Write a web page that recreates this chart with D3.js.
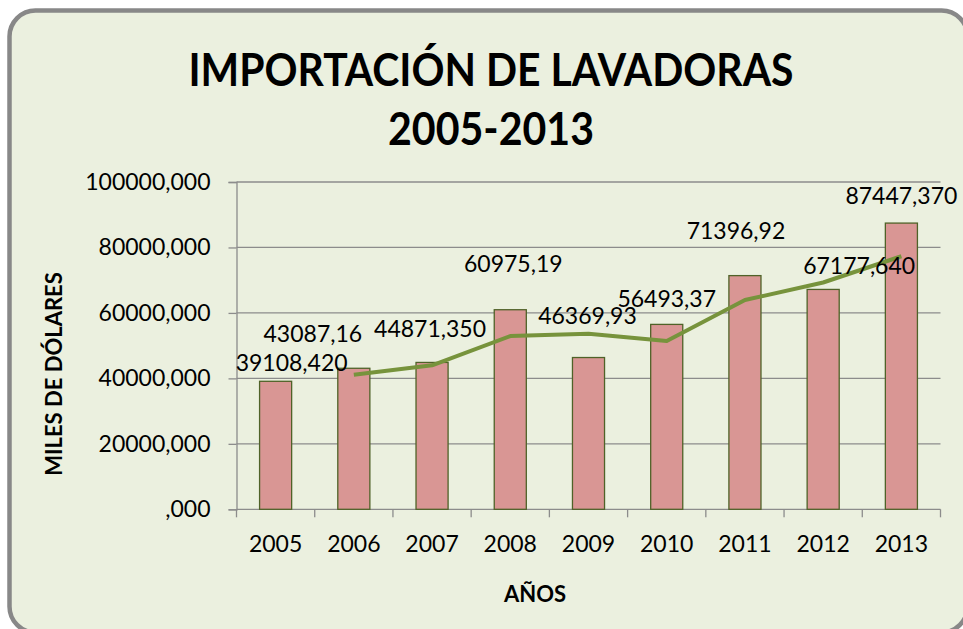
<!DOCTYPE html>
<html>
<head>
<meta charset="utf-8">
<script src="https://cdn.jsdelivr.net/npm/d3@7"></script>
<style>
  body { margin: 0; background: #ffffff; }
  svg { display: block; }
  text { font-family: Lato, "Open Sans", sans-serif; fill: #000; }
</style>
</head>
<body>
<script>
// data
const years = ["2005", "2006", "2007", "2008", "2009", "2010", "2011", "2012", "2013"];
const imports = [39108.42, 43087.16, 44871.35, 60975.19, 46369.93, 56493.37, 71396.92, 67177.64, 87447.37];
const importLabels = ["39108,420", "43087,16", "44871,350", "60975,19", "46369,93", "56493,37", "71396,92", "67177,640", "87447,370"];
// trend line (starts at 2006)
const trendYears = ["2006", "2007", "2008", "2009", "2010", "2011", "2012", "2013"];
const trendValues = [41100, 43980, 52920, 53670, 51430, 63950, 69290, 77310];
const yTicks = [0, 20000, 40000, 60000, 80000, 100000];

// where excel left each data label, relative to the top of its bar
const labelShift = [[16, -19], [-41, -35], [-2, -34], [3, -46], [-1, -42], [0, -26], [-9, -45], [36, -24], [0, -27]];

const W = 963, H = 629;
const svg = d3.select("body").append("svg")
  .attr("width", W)
  .attr("height", H);

// chart frame
svg.append("rect")
  .attr("x", 9.5).attr("y", 10.5)
  .attr("width", 958).attr("height", 622)
  .attr("rx", 26).attr("ry", 26)
  .attr("fill", "#ebf0df")
  .attr("stroke", "#888888")
  .attr("stroke-width", 4.5);

// title (calibri is narrower, so squeeze to the original width)
svg.append("text")
  .attr("x", 491).attr("y", 86)
  .attr("text-anchor", "middle")
  .attr("textLength", 605).attr("lengthAdjust", "spacingAndGlyphs")
  .style("font-size", "45px").style("font-weight", "bold")
  .text("IMPORTACIÓN DE LAVADORAS");
svg.append("text")
  .attr("x", 491).attr("y", 145)
  .attr("text-anchor", "middle")
  .attr("textLength", 206).attr("lengthAdjust", "spacingAndGlyphs")
  .style("font-size", "45px").style("font-weight", "bold")
  .text("2005-2013");

const plotLeft = 236.5, plotRight = 940.5, plotTop = 182, plotBottom = 509.3;

const x = d3.scaleBand()
  .domain(years)
  .range([plotLeft, plotRight])
  .paddingInner(0.59)
  .paddingOuter(0.295);

const xc = d3.scaleBand().domain(years).range([plotLeft, plotRight]); // whole category slots

const y = d3.scaleLinear()
  .domain([0, 100000])
  .range([plotBottom, plotTop]);

const fmt = function (d) {
  let s = d3.format(".3f")(d).replace(".", ",");
  return s.replace(/^0,/, ",");
};

// gridlines
svg.append("g")
  .selectAll("line")
  .data(yTicks.slice(1))
  .enter()
  .append("line")
    .attr("x1", plotLeft).attr("x2", plotRight)
    .attr("y1", d => y(d)).attr("y2", d => y(d))
    .attr("stroke", "#8c8c8c")
    .attr("stroke-width", 1.3);

// y axis
const yAxis = svg.append("g")
  .attr("transform", "translate(" + plotLeft + ",0)")
  .call(d3.axisLeft(y).tickValues(yTicks).tickFormat(fmt).tickSize(8).tickPadding(18));
yAxis.selectAll("path, line").attr("stroke", "#8c8c8c").attr("stroke-width", 1.3);
yAxis.selectAll("text").style("font-size", "23px").style("font-family", "Lato, sans-serif").attr("fill", "#000");

// x axis, ticks sit between the categories
const xAxis = svg.append("g")
  .attr("transform", "translate(0," + plotBottom + ")");
xAxis.append("line")
  .attr("x1", plotLeft).attr("x2", plotRight)
  .attr("stroke", "#8c8c8c").attr("stroke-width", 1.3);
xAxis.selectAll(".tk")
  .data(years.concat(["end"]))
  .enter()
  .append("line")
    .attr("class", "tk")
    .attr("x1", (d, i) => i < years.length ? xc(d) : plotRight)
    .attr("x2", (d, i) => i < years.length ? xc(d) : plotRight)
    .attr("y1", 0).attr("y2", 8)
    .attr("stroke", "#8c8c8c").attr("stroke-width", 1.3);
xAxis.selectAll(".yr")
  .data(years)
  .enter()
  .append("text")
    .attr("class", "yr")
    .attr("x", d => xc(d) + xc.bandwidth() / 2)
    .attr("y", 43)
    .attr("text-anchor", "middle")
    .style("font-size", "23px")
    .text(d => d);

// bars
svg.append("g")
  .selectAll("rect")
  .data(imports)
  .enter()
  .append("rect")
    .attr("x", (d, i) => x(years[i]))
    .attr("y", d => y(d))
    .attr("width", x.bandwidth())
    .attr("height", d => plotBottom - y(d))
    .attr("fill", "#d99694")
    .attr("stroke", "#4f6228")
    .attr("stroke-width", 1.3);

// trend line
const line = d3.line()
  .x((d, i) => xc(trendYears[i]) + xc.bandwidth() / 2)
  .y(d => y(d));
svg.append("path")
  .datum(trendValues)
  .attr("d", line)
  .attr("fill", "none")
  .attr("stroke", "#77933c")
  .attr("stroke-width", 4)
  .attr("stroke-linejoin", "round");

// data labels
svg.append("g")
  .selectAll("text")
  .data(imports)
  .enter()
  .append("text")
    .attr("x", (d, i) => xc(years[i]) + xc.bandwidth() / 2 + labelShift[i][0])
    .attr("y", (d, i) => y(d) + labelShift[i][1])
    .attr("dy", "0.36em")
    .attr("text-anchor", "middle")
    .style("font-size", "23px")
    .text((d, i) => importLabels[i]);

// axis titles
svg.append("text")
  .attr("transform", "translate(62,374) rotate(-90)")
  .attr("text-anchor", "middle")
  .style("font-size", "22px").style("font-weight", "bold")
  .text("MILES DE DÓLARES");

svg.append("text")
  .attr("x", 535).attr("y", 602)
  .attr("text-anchor", "middle")
  .style("font-size", "22px").style("font-weight", "bold")
  .text("AÑOS");
</script>
</body>
</html>
